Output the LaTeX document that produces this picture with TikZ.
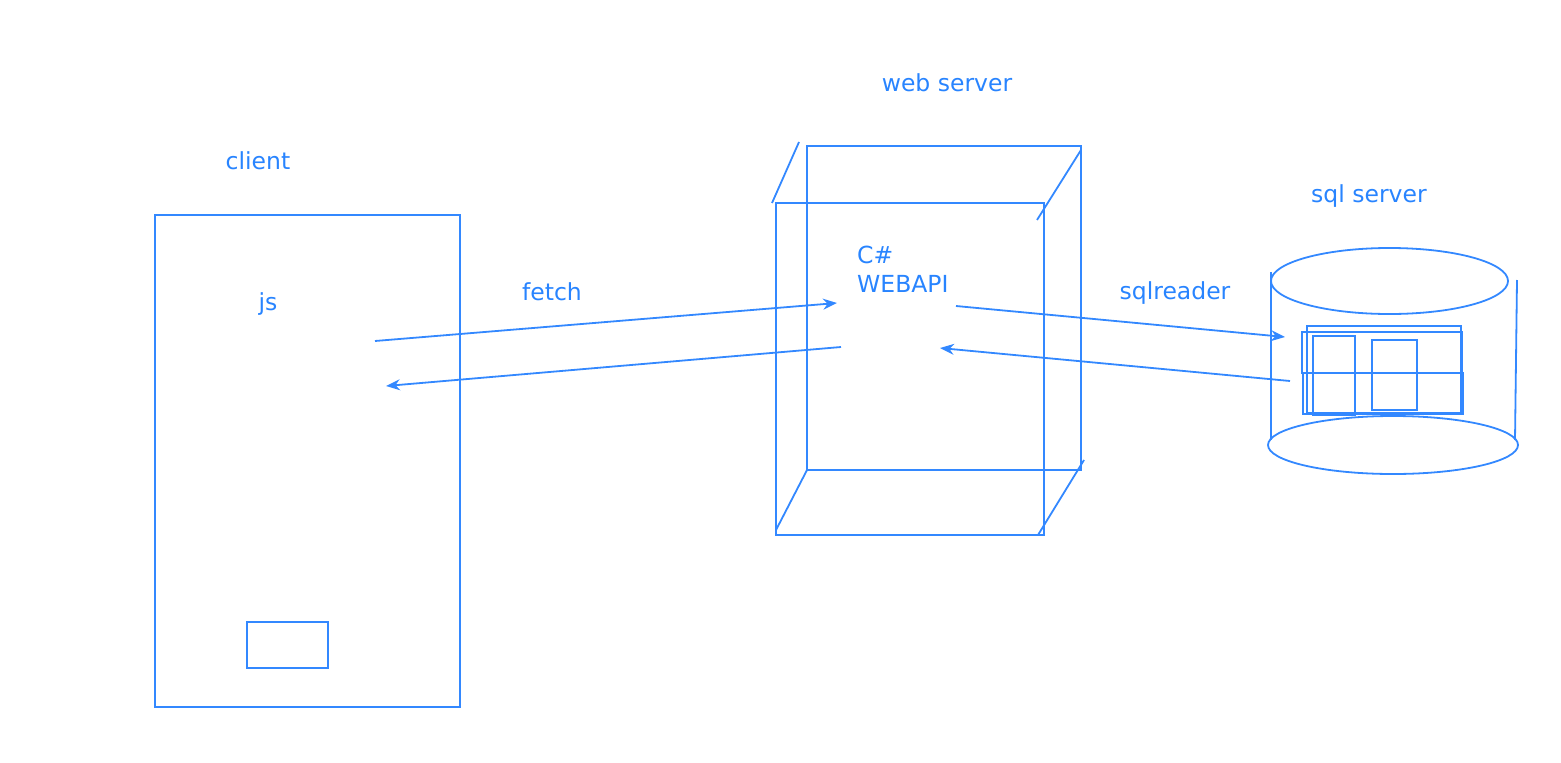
\documentclass[tikz,border=0pt]{standalone}
\usepackage{fontspec}
\setmainfont{DejaVu Sans}
\usetikzlibrary{arrows.meta,shapes.geometric}
\definecolor{lineblue}{RGB}{51,136,255}
\definecolor{textblue}{RGB}{40,132,255}
\begin{document}
\begin{tikzpicture}[x=1pt,y=-1pt,
  ln/.style={draw=lineblue,line width=1.8pt,outer sep=0pt},
  lbl/.style={text=textblue,inner sep=0pt,anchor=base,font=\fontsize{23.5}{28}\selectfont},
  arr/.style={draw=lineblue,line width=1.8pt,-{Stealth[length=14pt,width=11pt,inset=4.5pt]}}]
\useasboundingbox (0,0) rectangle (1561,763);
% client
\node[lbl] (clientlbl) at (258,169) {client};
\node[ln,minimum width=305pt,minimum height=492pt,inner sep=0pt,anchor=north west] (client) at (155,215) {};
\node[ln,minimum width=81pt,minimum height=46pt,inner sep=0pt,anchor=north west] (btn) at (247,622) {};
\node[lbl] (js) at (268,310) {js};
% web server box
\node[lbl] (weblbl) at (947,91) {web server};
\node[ln,minimum width=274pt,minimum height=324pt,inner sep=0pt,anchor=north west] (back) at (807,146) {};
\node[ln,minimum width=268pt,minimum height=332pt,inner sep=0pt,anchor=north west] (front) at (776,203) {};
\coordinate (d1a) at (772,203); \coordinate (d1b) at (799,142);
\coordinate (d2a) at (1037,220); \coordinate (d2b) at (1081,150);
\coordinate (d3a) at (776,530); \coordinate (d3b) at (807,470);
\coordinate (d4a) at (1038,535); \coordinate (d4b) at (1084,460);
\draw[ln] (d1a) -- (d1b);
\draw[ln] (d2a) -- (d2b);
\draw[ln] (d3a) -- (d3b);
\draw[ln] (d4a) -- (d4b);
\node[lbl,anchor=base west] (cs) at (857,263) {C\#};
\node[lbl,anchor=base west] (webapi) at (857,292) {WEBAPI};
% labels
\node[lbl] (fetch) at (552,300) {fetch};
\node[lbl] (sqlreader) at (1175,299) {sqlreader};
\node[lbl] (sqllbl) at (1369,202) {sql server};
% sql server cylinder
\node[ln,ellipse,minimum width=237pt,minimum height=66pt,inner sep=0pt] (top) at (1389.5,281) {};
\node[ln,ellipse,minimum width=250pt,minimum height=58pt,inner sep=0pt] (bottom) at (1393,445) {};
\coordinate (cl1) at (1271,272); \coordinate (cl2) at (1271,440);
\coordinate (cr1) at (1517,280); \coordinate (cr2) at (1515,440);
\draw[ln] (cl1) -- (cl2);
\draw[ln] (cr1) -- (cr2);
\draw[ln] (1306.7,325.7) rectangle (1461.3,413.3);
\draw[ln] (1301.7,331.7) rectangle (1462.3,373.3);
\draw[ln] (1302.7,372.7) rectangle (1463.3,414);
\draw[ln] (1313.3,336) rectangle (1355.3,415);
\draw[ln] (1371.7,339.7) rectangle (1417,410);
% arrows
\coordinate (a1s) at (375,341); \coordinate (a1e) at (837,303);
\coordinate (a2s) at (841,347); \coordinate (a2e) at (386,386);
\coordinate (a3s) at (956,306); \coordinate (a3e) at (1285,337);
\coordinate (a4s) at (1290,381); \coordinate (a4e) at (940,348);
\draw[arr] (a1s) -- (a1e);
\draw[arr] (a2s) -- (a2e);
\draw[arr] (a3s) -- (a3e);
\draw[arr] (a4s) -- (a4e);
\end{tikzpicture}
\end{document}
